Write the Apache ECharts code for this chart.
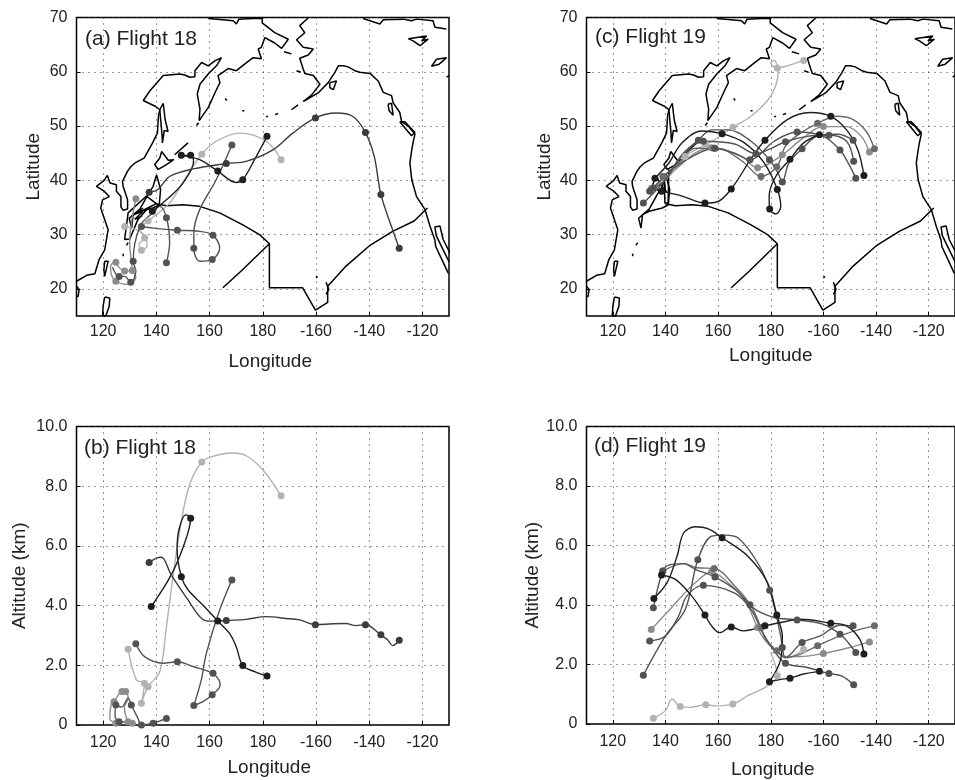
<!DOCTYPE html>
<html>
<head>
<meta charset="utf-8">
<script src="https://cdn.jsdelivr.net/npm/echarts@6/dist/echarts.min.js"></script>
<style>
html,body{margin:0;padding:0;background:#fff;overflow:hidden}
#main{width:955px;height:780px}
</style>
</head>
<body>
<div id="main"></div>
<script>
// ticks, longitude runs 110..250 east (past 180 shown as negative west)
var lonTicks = [120, 140, 160, 180, 200, 220, 240];
var latTicks = [20, 30, 40, 50, 60, 70];
var altTicks = [0, 2, 4, 6, 8, 10];

// coastlines [lon, lat]
var asiaCoast = [[110,21.4],[113.8,22.5],[116.9,22.8],[118.5,25.4],[120.6,27.2],[121.9,30.9],[119.1,34.9],[119.8,36.4],[122.3,37],[120.4,38],[117.5,38.9],[120.4,40],[121.6,40.9],[122.6,39.5],[125,39.2],[125,38],[126.7,37],[126.7,35.1],[127.5,34.5],[129.2,34.7],[129.2,36.4],[127.5,38.9],[127.3,39.8],[129.2,41.7],[130.4,42.5],[132,43.2],[135.4,44.1],[138.6,46.9],[140.4,48.7],[140.8,51.8],[141.3,53],[139.8,53.6],[137.6,54.1],[135.1,54.7],[137.6,56.5],[142.6,59.3],[148.8,59.6],[150.7,59.4],[152.6,59],[154.5,59.1],[154.5,60.2],[157,61.7],[159.5,61.1],[162,62],[164.5,62.6],[162.6,61.1],[159.5,59.6],[156.4,57.7],[155.4,55.9],[156.4,53.1],[156.1,51],[159.5,53.4],[162.4,56.5],[163.9,58],[163.2,59.3],[167,60.6],[170.1,60.2],[173.9,61.7],[176.4,62.6],[179.5,62.4],[178.3,64.2],[179.5,64.5],[180.8,66.3],[184.5,65.3],[187.1,64.3],[189.6,66],[184.5,67.2],[179.8,69],[179.8,70]];
var siberiaTop = [[159.5,69.8],[165,69.6],[168.9,69.4],[170.1,68.8],[171,69.7],[176.4,69.8],[179.8,69.8]];
var alaskaCoast = [[197.1,69.9],[193.9,68.5],[195.8,67.2],[192.7,65.9],[195.2,64.5],[199,64.2],[197.1,63.1],[193.9,62.5],[195.2,60.5],[195.8,59.7],[199,59.3],[201.5,57.7],[198.3,55.7],[195.2,54.5],[200.8,56.1],[204.6,58],[207.1,59.9],[208.4,61.1],[210.2,61.1],[212.1,60.9],[214.6,60.2],[216.5,59.9],[220.3,59.7],[223.4,58.3],[225.3,56.2],[228.4,55.6],[229,54.3],[231.5,52.5],[232.2,50.8],[234.7,50],[237.2,48.5],[236.5,47],[236,45.6],[235.3,43.2],[236,40.1],[237.8,37],[241,34.6],[242.9,31.5],[244.7,29],[245,27.8],[247.9,24.8],[249.7,22.9]];
var arcticCoast = [[217.7,69.8],[224,68.8],[225.3,69.6],[232.8,69.7],[235.9,69.4],[237.8,69.7],[244,69.4],[244.7,68.2],[249,67.9]];
var gulfCoast = [[250.4,26.6],[247.8,29.1],[246.6,31.6],[244.7,31.4],[245.2,29.8],[248,27],[250,25]];
var vancouver = [[231.5,50.8],[233.4,50.8],[237.2,48.8],[235.9,48.2],[231.5,50.8]];
var charlotte = [[227.1,54],[228.4,54.2],[229,52],[227.5,52.8],[227.1,54]];
var arcticIsle1 = [[234.7,66.1],[241.6,66.6],[239.7,65.7],[242.2,66],[239.1,64.8],[236.5,65.7],[234.7,66.1]];
var arcticIsle2 = [[243.4,61],[245.3,62.3],[249.1,62.6],[246.3,61.4],[243.4,61]];
var arcticIsle3 = [[249.1,59],[250,59.3]];
var cookInlet = [[205.2,58],[207.7,58.3],[206.5,56.7],[205.2,57.1],[205.2,58]];
var sakhalin = [[142.6,54.2],[143.3,51.2],[144.4,49],[143,49.2],[142.3,46.9],[142.1,48.7],[141.3,53],[142.6,54.2]];
var hokkaido = [[142,45.3],[144.5,43.7],[146.6,43.8],[143.2,42.7],[140.7,42],[139.4,42.9],[141.3,44.1],[142,45.3]];
var honshu = [[140.1,41],[141.6,38.3],[141.1,35.5],[138.8,34.9],[133.8,34.3],[131.3,33.7],[130.7,31.2],[129.8,33],[133.8,34.7],[136.9,37.4],[138.8,38.9],[140.1,41]];
var taiwan = [[120.6,25.1],[121.9,25.1],[120.6,22.3],[120.3,23.5],[120.6,25.1]];
var luzon = [[120.6,18.5],[122.5,18.3],[122.3,16.8],[121,15],[119.8,15],[120,16.8],[120.6,18.5]];
var hainan = [[110,20.5],[111,19.9],[110.6,18.6],[110,18.6]];
var ryukyu = [[129.4,28.5],[128.8,28]];
var okinawa = [[127.5,26.5],[127.6,26]];
var kurilChain = [[146.9,44.7],[151.9,46.9]];
var paramushir = [[155.1,50.1],[155.9,50.6]];
var aleutians1 = [[181.3,51.7],[182,51.8]];
var aleutians2 = [[184.6,52.1],[185.8,52.3]];
var aleutians3 = [[190.8,53],[193.3,53.9]];
var attu = [[172.3,52.8],[173.1,52.8]];
var commander = [[165.9,55.1],[166.5,54.7]];
var stLawrence = [[188,63.7],[190.8,63.3]];
var nunivak = [[192.7,60.2],[194.3,59.9]];
var hawaii1 = [[200,22],[200.6,22.3]];
var hawaii2 = [[203.8,21.2],[204.8,19.9],[203.8,19]];
var coastlines = [asiaCoast, siberiaTop, alaskaCoast, arcticCoast, gulfCoast, vancouver, charlotte, arcticIsle1, arcticIsle2, arcticIsle3, cookInlet, sakhalin, hokkaido, honshu, taiwan, luzon, hainan, ryukyu, okinawa, kurilChain, paramushir, aleutians1, aleutians2, aleutians3, attu, commander, stLawrence, nunivak, hawaii1, hawaii2];

// airspace boundary arcs
var boundaryOuter = [[140,35.7],[143.8,35.3],[150,35.5],[156.3,35.2],[163.8,34],[172.5,31.8],[178.8,30],[182.5,28.3],[182.5,20.2],[195,20.2],[199.8,16.1],[204.4,17.5],[204.4,20.5],[211.3,24.2],[220,27.9],[228.8,30.6],[236.9,32.5],[241.9,34.9]];
var boundaryInner = [[165,20.2],[171.9,23.3],[182.5,28.3]];
coastlines.push(boundaryOuter, boundaryInner);

// flight paths
var flight18Path = [[140,35.7],[136.3,37.1],[129.4,34],[128.1,29.1],[130,29.2],[133.1,32.8],[136.9,34.9],[140,35.7],[130.6,33.4],[135,34.9],[131.5,33.7],[135,34.3],[131.9,32.8],[134.8,33.5]];
var flight19Path = [[140.6,38],[134.4,38.4],[136.5,40.7],[140,37.8],[139.4,41.3],[139.8,35.8],[141,35.8],[141.3,42]];

// back trajectories: [lon, lat or alt, 1 = daily dot]
var f18MapLong = [[231.3,27.5,1],[228.8,30.9],[224.4,37.4,1],[221.9,44.4],[218.6,48.8,1],[213.8,51.8],[207.5,52.4],[199.8,51.5,1],[191.3,48.7],[183.8,45.6],[173.8,43.5],[166.3,43.1,1],[153.8,42.1],[145,40.7],[140.6,38.3],[137.3,37.8,1]];
var f18MapDark = [[181.6,48.1,1],[176.9,43.8],[172.5,40.1,1],[170,39.6],[163.1,41.7,1],[156.3,43.8],[149.4,44.6,1],[152.9,44.6,1],[154,43.5],[150,39.5],[143.8,36.4],[138.5,34.3,1]];
var f18MapLight = [[186.9,43.8,1],[181.3,47.2],[171.3,48.7],[162.5,47.2],[157.1,44.8,1],[151.3,40.7],[145,35.8],[136.9,32.5,1],[133.8,30.9],[135.6,29.4,1],[133.5,28.2],[134.4,27.1,1],[136.5,27.9],[134.8,30.3],[128.1,31.5,1]];
var f18MapMid = [[168.4,46.5,1],[162.5,40.1],[156.3,34.6],[154.1,30.3],[154.1,27.5,1],[156.3,25.1],[161,25.4,1],[163.8,27.5],[161.3,29.9,1],[156.3,30.6],[147.9,30.8,1],[138.8,31.2],[134.4,31.5,1]];
var f18MapLow = [[143.8,24.8,1],[145,28.5],[143.8,33.1,1],[141.3,35.2],[138.5,34],[133.8,31.5],[131.3,25.1,1],[132.3,23.3],[130.4,21.2,1],[128.1,22.3],[126,22.3,1],[123.5,24]];
var f18MapGray = [[132.3,36.6,1],[130,28.5],[131,23.4,1],[128.1,23.3,1],[125,24.5],[124.8,24.9,1],[122.8,24.2],[123.1,22.6],[124.8,21.4,1],[128.8,20.8],[132.3,22],[131,23.4]];

var f18AltLong = [[231.3,2.84,1],[228.8,2.66],[227,2.85],[224.4,3.02,1],[218.6,3.36,1],[215,3.33],[211.3,3.4],[206.3,3.39],[199.8,3.36,1],[193.8,3.52],[188.8,3.57],[181.3,3.63],[173.8,3.54],[166.3,3.5,1],[163.1,3.48],[158.8,3.49],[156.3,3.63],[151.9,4.19],[145.6,5.03],[141.9,5.62],[140,5.59],[137.3,5.44,1]];
var f18AltDark = [[181.6,1.64,1],[176.9,1.79],[172.5,1.99,1],[170,2.63],[167.5,3.07],[163.1,3.48,1],[157.5,4.02],[151.9,4.53],[149.4,4.97,1],[147.8,5.87],[148.5,6.54],[151,7.04],[152.9,6.93,1],[150.6,6.09],[145.6,5.03],[138.1,3.97,1]];
var f18AltLight = [[186.9,7.68,1],[180,8.55],[173.8,9.02],[168.8,9.11],[162.5,9.03],[157.1,8.81,1],[151.9,7.88],[147.5,5.75],[143.8,3.3],[141.3,1.79],[136.9,1.28,1],[134.4,0.73,1],[135.5,1.4,1],[132.5,1.51],[129.4,2.54,1]];
var f18AltMid = [[168.4,4.86,1],[163.8,3.85],[158.8,2.4],[156.9,1.51],[154.1,0.65,1],[157.5,0.78],[161,1.01,1],[164,1.34],[163.5,1.51],[161.3,1.73,1],[153.8,1.96],[147.9,2.12,1],[142.5,2.07],[135.6,2.29],[132.3,2.72,1]];
var f18AltLow = [[143.8,0.22,1],[138.8,0.06,1],[134.4,0,1],[133.1,0.22],[130.6,0.67,1],[129.4,0.9],[127,0.6],[124.8,0.67,1],[124.5,0.3],[126,0.11,1],[130,0.1]];
var f18AltGray = [[124.8,0.06,1],[122.5,0.22],[123.1,0.73],[124.1,0.78,1],[127.1,1.12,1],[128.5,1.12,1],[129.4,0.89],[128,0.6],[129.4,0.11,1],[131,0.06,1]];

var f19MapA = [[215.4,40.9,1],[213.1,45.6],[208.8,49.3],[202.8,51.8,1],[195,52.5],[186.3,51.2],[177.8,47.4,1],[173.1,44.4],[165,38.4,1],[160,36.1],[155,35.8,1],[146.3,37.1],[138.5,38,1]];
var f19MapB = [[198.5,48.4,1],[192.5,46.9],[187.3,43.9,1],[181.9,40.7],[179.4,37.1],[179.6,34.7,1],[181.9,33.8],[183.8,35.2],[182.5,38.3,1],[177.5,43.2],[170,46.9],[161.5,48.6,1],[153.8,49.1],[146.3,46.9],[141.3,43.2],[136,40.4,1]];
var f19MapC = [[212.3,40.4,1],[209.4,43.2],[206.3,45.6,1],[200,48.1],[190,48.9,1],[181.3,47.2],[172.1,43.8,1],[166.3,45],[158.8,45.9,1],[151.3,44.7],[142.5,42],[135.4,38.6,1]];
var f19MapD = [[211.5,43.5,1],[208.8,47.2],[202.1,48.3,1],[193.8,48.1],[185.6,47.1,1],[178.8,45.6],[174.4,44.9,1],[166.3,46.7],[154.4,47.2,1],[145,43.8],[140,40.1],[134,38,1]];
var f19MapE = [[211.3,47.4,1],[205.6,48.5],[198.8,48.4],[191.9,45.8,1],[186.9,43.2],[184.4,39.7,1],[182.8,41.3],[179.5,43.8,1],[172.5,47.2],[163.8,49.3],[157.5,49.3],[152.5,47.4,1],[146.3,44.7],[140,40.1],[131.6,35.8,1]];
var f19MapF = [[219.4,45.8,1],[216.3,49],[211.3,51.2],[205,51.8],[197.8,50.5,1],[191.3,48.7],[185.6,46.3],[182.3,42.5,1],[176.3,40.7,1],[170,43.2],[162.5,45.6],[158.5,45.9,1],[151.3,45.9],[145,43.2],[139,40.7,1]];
var f19MapG = [[217.5,45.2,1],[214.4,48.1],[208.8,49.9],[200,49.9,1],[191.3,47.4],[184.4,44.7,1],[175,42.3,1],[168.8,44.4],[157.5,46,1],[151.3,45],[143.8,42],[134.6,38.5,1]];
var f19MapH = [[192.5,62.1,1],[186.3,61.1],[182.5,60.7,1],[180,61.6],[181.3,62.1],[182.8,60.1],[180,55.5],[172.5,51.8],[165.6,49.8,1],[158.8,47.5],[155.3,46.6,1],[147.5,44.4,1],[141.3,40.7],[135.4,38.6,1]];

var f19AltA = [[215.4,2.35,1],[213.8,2.85],[208.8,3.3],[202.8,3.39,1],[191.3,3.52],[183.8,3.41],[177.8,3.3,1],[173.1,3.18],[169.4,3.13],[165,3.26,1],[160.6,3.07],[157.5,3.3],[155,3.66,1],[150,4.3],[143.8,4.86],[138.5,5.01,1]];
var f19AltB = [[198.5,1.77,1],[192.5,1.68],[187.3,1.54,1],[183.8,1.5],[179.5,1.42,1],[183.8,2.18],[184.4,2.96],[182.3,3.66,1],[178.8,4.75],[171.3,5.64],[161.5,6.26,1],[156.3,6.56],[151.3,6.63],[146.9,6.42],[144.4,5.64],[140.6,4.75],[135.6,4.22,1]];
var f19AltC = [[212.3,2.4,1],[209.4,2.74],[206.3,3.02,1],[200,3.35],[190,3.5,1],[181.3,3.58],[175,3.8],[172.1,4.01,1],[166.3,4.53],[158.8,4.94,1],[151.3,5.2],[146.9,5.39],[141.3,5.34],[139,5.14,1],[135.4,3.91,1]];
var f19AltD = [[211.5,1.32,1],[206.9,1.62],[202.1,1.7,1],[193.8,1.9],[185.6,2.04,1],[181.3,2.46],[176.9,3.07],[172.5,3.85],[166.3,4.4],[154.4,4.66,1],[148.1,4.3],[145,3.63],[140,2.96],[134,2.79,1]];
var f19AltE = [[211.3,3.3,1],[206.3,3.32],[198.8,2.96],[191.9,2.74,1],[185.6,2.23],[184.4,2.57,1],[183.8,2.96],[179.6,4.5,1],[175,5.42],[167.5,6.26],[162.5,6.35],[157.5,6.31],[152.3,5.52,1],[147.5,3.85],[140,2.96],[131.6,1.64,1]];
var f19AltF = [[219.4,3.3,1],[213.8,3.18],[206.3,2.96],[197.8,2.63,1],[191.3,2.35],[185.6,2.23],[182.3,2.46,1],[178.1,2.85],[176.3,3.24,1],[172.5,3.97],[166.3,4.64],[158.5,5.23,1],[151.9,5.25],[146.9,5.39],[139,5.14,1]];
var f19AltG = [[217.5,2.76,1],[210,2.57],[200,2.37,1],[191.3,2.27],[185.6,2.27],[181.9,2.46],[177.5,2.85],[175,3.24,1],[170,4.19],[163.8,4.75],[157.5,5.11,1],[151.3,4.75],[146.3,4.3],[140,3.69],[134.6,3.18,1]];
var f19AltH = [[192.5,2.51,1],[186.3,2.23],[181.9,2.4],[180,2.4],[182.5,1.62,1],[178.8,1.28],[171.3,0.95],[165.6,0.67,1],[158.8,0.61],[155.3,0.65,1],[149.4,0.56],[145.6,0.59,1],[142.5,0.84],[140,0.45],[135.4,0.19,1]];

var black = '#1e1e1e', dark = '#3c3c3c', mid = '#525252', gray = '#8c8c8c', light = '#b2b2b2';

function trajectory(grid, pts, color) {
  return {
    type: 'line', xAxisIndex: grid, yAxisIndex: grid, smooth: 0.35, showAllSymbol: true, silent: true, z: 5,
    lineStyle: { color: color, width: 1.4 },
    itemStyle: { color: color },
    data: pts.map(function (p) {
      return { value: [p[0], p[1]], symbol: p[2] ? 'circle' : 'none', symbolSize: 7 };
    })
  };
}
function outline(grid, pts, width) {
  return {
    type: 'line', xAxisIndex: grid, yAxisIndex: grid, symbol: 'none', silent: true, z: 3,
    lineStyle: { color: '#000', width: width }, data: pts
  };
}
function lonLabel(v) { return v > 180 ? String(v - 360) : String(v); }
function altLabel(v) { return v === 0 ? '0' : v.toFixed(1); }

var font = 'Liberation Sans';
var grids = [
  { left: 76.5, top: 17.5, width: 372.5, height: 298.5 },
  { left: 76.5, top: 426.5, width: 372.5, height: 298.5 },
  { left: 586.5, top: 17.5, width: 372.5, height: 298.5 },
  { left: 586.5, top: 426.5, width: 372.5, height: 298.5 }
];
function xAxis(i, gap, margin, shift) {
  return {
    type: 'value', gridIndex: i, min: 110, max: 250, name: 'Longitude', nameLocation: 'middle', nameGap: gap,
    nameTextStyle: { fontFamily: font, fontSize: 19, color: '#222', padding: [0, 0, 0, shift] },
    axisLine: { show: false },
    axisTick: { inside: true, length: 4, lineStyle: { color: '#000' }, customValues: lonTicks },
    axisLabel: { fontFamily: font, fontSize: 16, color: '#222', margin: margin, customValues: lonTicks, formatter: lonLabel },
    splitLine: { show: true, lineStyle: { color: '#333', width: 1, type: [1, 5] } }
  };
}
function yAxis(i, name, min, max, ticks, fmt, gap) {
  return {
    type: 'value', gridIndex: i, min: min, max: max, name: name, nameLocation: 'middle', nameGap: gap,
    nameTextStyle: { fontFamily: font, fontSize: 19, color: '#222' },
    axisLine: { show: false },
    axisTick: { inside: true, length: 4, lineStyle: { color: '#000' }, customValues: ticks },
    axisLabel: { fontFamily: font, fontSize: 16, color: '#222', margin: 9, customValues: ticks, formatter: fmt },
    splitLine: { show: true, lineStyle: { color: '#333', width: 1, type: [1, 5] } }
  };
}
function panelLabel(text, left, top) {
  return { text: text, left: left, top: top, textStyle: { fontFamily: font, fontSize: 21, fontWeight: 'normal', color: '#222' } };
}

var series = [];
[0, 2].forEach(function (g) {
  coastlines.forEach(function (c) { series.push(outline(g, c, 1.5)); });
});
series.push(outline(0, flight18Path, 1.5), outline(2, flight19Path, 1.5));
[[f18MapGray, gray], [f18MapLight, light], [f18MapLow, mid], [f18MapMid, mid], [f18MapDark, black], [f18MapLong, dark]].forEach(function (t) {
  series.push(trajectory(0, t[0], t[1]));
});
[[f18AltGray, gray], [f18AltLight, light], [f18AltLow, mid], [f18AltMid, mid], [f18AltDark, black], [f18AltLong, dark]].forEach(function (t) {
  series.push(trajectory(1, t[0], t[1]));
});
[[f19MapH, light], [f19MapG, gray], [f19MapF, '#6a6a6a'], [f19MapE, mid], [f19MapD, mid], [f19MapC, mid], [f19MapB, black], [f19MapA, black]].forEach(function (t) {
  series.push(trajectory(2, t[0], t[1]));
});
[[f19AltH, light], [f19AltG, gray], [f19AltF, '#6a6a6a'], [f19AltE, mid], [f19AltD, mid], [f19AltC, mid], [f19AltB, black], [f19AltA, black]].forEach(function (t) {
  series.push(trajectory(3, t[0], t[1]));
});

var myChart = echarts.init(document.getElementById('main'), null, { renderer: 'canvas' });
myChart.setOption({
  animation: false,
  backgroundColor: '#fff',
  title: [
    panelLabel('(a) Flight 18', 80, 24),
    panelLabel('(b) Flight 18', 79, 433),
    panelLabel('(c) Flight 19', 590, 22),
    panelLabel('(d) Flight 19', 589, 431)
  ],
  grid: grids.map(function (g) {
    return Object.assign({ show: true, borderColor: '#000', borderWidth: 1.5, backgroundColor: 'transparent' }, g);
  }),
  xAxis: [xAxis(0, 36, 8, 15), xAxis(1, 33, 10, 13), xAxis(2, 30, 8, 0), xAxis(3, 36, 10, 4)],
  yAxis: [
    yAxis(0, 'Latitude', 15, 70, latTicks, null, 33),
    yAxis(1, 'Altitude (km)', 0, 10, altTicks, altLabel, 47.5),
    yAxis(2, 'Latitude', 15, 70, latTicks, null, 32),
    yAxis(3, 'Altitude (km)', 0, 10, altTicks, altLabel, 44)
  ],
  series: series
});
</script>
</body>
</html>
